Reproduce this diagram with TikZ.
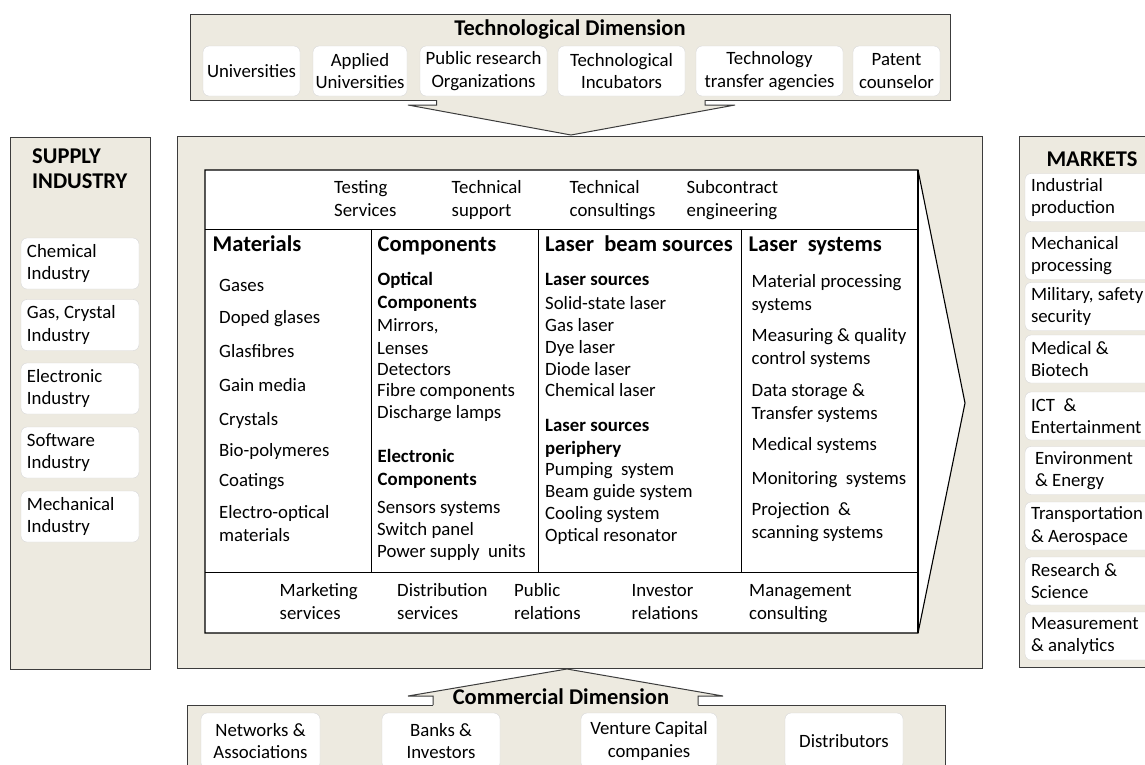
\documentclass[tikz,border=0pt]{standalone}
\usepackage{fontspec}
\setmainfont{Carlito}
\usepackage{tikz}

\definecolor{dimfill}{RGB}{237,234,224}
\definecolor{edgegray}{RGB}{60,60,60}
\definecolor{itemedge}{RGB}{215,215,215}
\newcommand{\bodysize}{\fontsize{18.8}{22.6}\selectfont}
\newcommand{\headsize}{\fontsize{22.5}{24.5}\selectfont\bfseries}

\begin{document}
\begin{tikzpicture}[x=1pt,y=-1pt,
  dimbox/.style={fill=dimfill,draw=edgegray,line width=1pt},
  itembox/.style={draw=itemedge,fill=white,rounded corners=6pt,align=center,font=\bodysize,inner sep=0pt},
  sidebox/.style={itembox,align=flush left,inner xsep=6pt},
  txt/.style={anchor=base west,inner sep=0pt,align=left,font=\bodysize},
  subhead/.style={txt,font=\bodysize\bfseries},
  colhead/.style={txt,font=\headsize},
  dimtitle/.style={anchor=base,inner sep=0pt,font=\headsize}]
\useasboundingbox (0,0) rectangle (1145,764);
\clip (0,0) rectangle (1145,764);
\fill[white] (0,0) rectangle (1145,764);

% value chain in the middle (y of a text = baseline of its last line)
\filldraw[dimbox] (177,136) rectangle (982,668);
\filldraw[fill=white,draw=black,line width=1.1pt] (205,170) -- (918,170) -- (965,403) -- (918,633) -- (205,633) -- cycle;
\draw[line width=1.1pt] (918,170) -- (918,633) (205,229.5) -- (918,229.5) (205,572.5) -- (918,572.5);
\draw[line width=1.1pt] (371.5,229.5) -- (371.5,572.5) (538.5,229.5) -- (538.5,572.5) (741.5,229.5) -- (741.5,572.5);

\foreach \x/\t [count=\i] in {334/{Testing\\Services}, 451.5/{Technical\\support}, 569.5/{Technical\\consultings}, 686.5/{Subcontract\\engineering}}
  \node[txt] (serv\i) at (\x,216) {\t}; % services on top

\node[colhead] (materials) at (212.5,251) {Materials};
\node[colhead] (components) at (377.5,251) {Components};
\node[colhead] (beamsrc) at (545,251) {Laser~ beam sources};
\node[colhead] (lasersys) at (748.5,251) {Laser~ systems};

\foreach \y/\t [count=\i] in {291/Gases, 323.5/Doped glases, 357.5/Glasfibres, 391.5/Gain media, 425.5/Crystals, 456.5/Bio-polymeres, 486.5/Coatings, 541.5/{Electro-optical\\materials}}
  \node[txt] (mat\i) at (219,\y) {\t};

\node[subhead] (optical) at (377.5,308.5) {Optical\\Components};
\foreach \y/\t [count=\i] in {331/{Mirrors,}, 354.5/Lenses, 375/Detectors, 396.5/Fibre components, 418.5/Discharge lamps}
  \node[txt] (opt\i) at (377,\y) {\t};
\node[subhead] (electronic) at (377.5,485.5) {Electronic\\Components};
\foreach \y/\t [count=\i] in {513.5/Sensors systems, 535.5/Switch panel, 557.5/Power supply~ units}
  \node[txt] (elec\i) at (377,\y) {\t};

\node[subhead] (lsrc) at (545,285) {Laser sources};
\foreach \y/\t [count=\i] in {309/Solid-state laser, 331.5/Gas laser, 353.5/Dye laser, 375/Diode laser, 396.5/Chemical laser}
  \node[txt] (src\i) at (545,\y) {\t};
\node[subhead] (lperi) at (545,454.3) {Laser sources\\periphery};
\foreach \y/\t [count=\i] in {475/Pumping~ system, 497.5/Beam guide system, 519.5/Cooling system, 541/Optical resonator}
  \node[txt] (peri\i) at (545,\y) {\t};

\foreach \y/\t [count=\i] in {310.5/{Material processing\\systems}, 364.5/{Measuring \& quality\\control systems}, 419/{Data storage \&\\Transfer systems}, 450.5/Medical systems, 484/Monitoring~ systems, 538.5/{Projection~ \&\\scanning systems}}
  \node[txt] (sys\i) at (751.5,\y) {\t};

\foreach \x/\t [count=\i] in {279.5/{Marketing\\services}, 397/{Distribution\\services}, 514/{Public\\relations}, 631.5/{Investor\\relations}, 749/{Management\\consulting}}
  \node[txt] (mgmt\i) at (\x,619.5) {\t}; % services at the bottom

% technological dimension
\filldraw[dimbox] (190,14) rectangle (950,100);
\node[dimtitle] (techtitle) at (570,35) {Technological Dimension};
\foreach \cx/\w/\t/\n in {251.5/97/Universities/univ, 360/94/{Applied\\Universities}/applied, 483.5/127/{Public research\\Organizations}/pubres, 621.5/127/{Technological\\Incubators}/incub, 769.5/147/{Technology\\transfer agencies}/transfer, 896.5/87/{Patent\\counselor}/patent}
  \node[itembox,minimum width=\w pt,minimum height=50pt] (\n) at (\cx,71) {\t};
\fill[dimfill] (436.5,99) -- (436.5,105) -- (408,105) -- (571,135) -- (735,105) -- (705,105) -- (705,99) -- cycle;
\draw[edgegray,line width=1pt] (436.5,100) -- (436.5,105) -- (408,105) -- (571,135) -- (735,105) -- (705,105) -- (705,100);

% supply industry
\filldraw[dimbox] (10,137) rectangle (150,669);
\node[colhead] (supply) at (32,188) {SUPPLY\\INDUSTRY};
\foreach \y/\t [count=\i] in {263.5/{Chemical\\Industry}, 325/{Gas, Crystal\\Industry}, 388.5/{Electronic\\Industry}, 452.5/{Software\\Industry}, 516.5/{Mechanical\\Industry}}
  \node[sidebox,text width=106pt,minimum height=51pt] (sup\i) at (80,\y) {\t};

% markets
\filldraw[dimbox] (1019,136) rectangle (1160,667);
\node[dimtitle] (markets) at (1092,166) {MARKETS};
\foreach \y/\t [count=\i] in {197.5/{Industrial\\production}, 255.5/{Mechanical\\processing}, 306.5/{Military, safety\\security}, 359/{Medical \&\\Biotech}, 416/{ICT~ \&\\Entertainment}, 470.5/{\hspace*{4pt}Environment\\\hspace*{4pt}\& Energy}, 526/{Transportation\\\& Aerospace}, 581/{Research \&\\Science}, 636/{Measurement\\\& analytics}}
  \node[sidebox,text width=140pt,minimum height=48pt] (mkt\i) at (1101,\y) {\t};

% commercial dimension
\filldraw[dimbox] (187,705) rectangle (945,790);
\fill[dimfill] (433,706) -- (433,696) -- (408,696) -- (567,669) -- (723,696) -- (698,696) -- (698,706) -- cycle;
\draw[edgegray,line width=1pt] (433,705) -- (433,696) -- (408,696) -- (567,669) -- (723,696) -- (698,696) -- (698,705);
\node[dimtitle] (comtitle) at (561,704) {Commercial Dimension};
\foreach \cx/\w/\t/\n in {260.5/119/{Networks \&\\Associations}/netw, 441/118/{Banks \&\\Investors}/banks, 649/136/{Venture Capital\\companies}/venture, 844/118/Distributors/distr}
  \node[itembox,minimum width=\w pt,minimum height=56pt] (\n) at (\cx,741) {\t};
\end{tikzpicture}
\end{document}
